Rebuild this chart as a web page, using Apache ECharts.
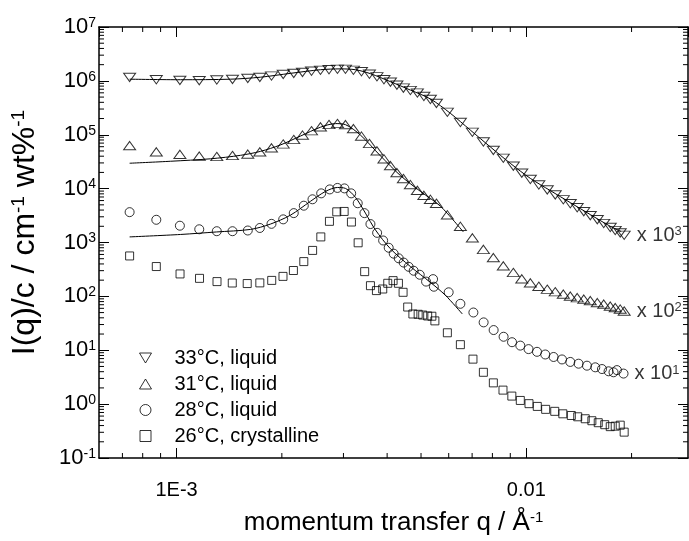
<!DOCTYPE html>
<html><head><meta charset="utf-8">
<script src="https://cdn.jsdelivr.net/npm/echarts@6/dist/echarts.min.js"></script>
<style>html,body{margin:0;padding:0;background:#fff}#c{width:689px;height:541px}</style>
</head><body><div id="c"></div>
<script>
const seriesNames = ['33°C, liquid', '31°C, liquid', '28°C, liquid', '26°C, crystalline'];
const scaleLabels = ['x 10{sup|3}', 'x 10{sup|2}', 'x 10{sup|1}', null];
const xTickLabels = { '-3': '1E-3', '-2': '0.01' };

// q grid shared by the 33 °C and 31 °C data (Å^-1)
const q33_31 = [7.34e-4, 8.75e-4, 1.022e-3, 1.161e-3, 1.303e-3, 1.445e-3, 1.598e-3, 1.730e-3, 1.868e-3, 2.018e-3,
  2.163e-3, 2.291e-3, 2.431e-3, 2.579e-3, 2.728e-3, 2.884e-3, 3.040e-3, 3.204e-3, 3.378e-3, 3.560e-3,
  3.741e-3, 3.917e-3, 4.088e-3, 4.266e-3, 4.452e-3, 4.662e-3, 4.882e-3, 5.095e-3, 5.318e-3, 5.533e-3,
  5.947e-3, 6.479e-3, 7.012e-3, 7.539e-3, 8.050e-3, 8.596e-3, 9.182e-3, 9.708e-3, 1.027e-2, 1.086e-2,
  1.148e-2, 1.210e-2, 1.276e-2, 1.336e-2, 1.398e-2, 1.460e-2, 1.524e-2, 1.596e-2, 1.665e-2, 1.738e-2,
  1.796e-2, 1.856e-2, 1.905e-2];
const I33 = [1.16e6, 1.05e6, 1.02e6, 1.01e6, 1.04e6, 1.065e6, 1.11e6, 1.16e6, 1.23e6, 1.32e6,
  1.38e6, 1.44e6, 1.51e6, 1.57e6, 1.61e6, 1.64e6, 1.64e6, 1.57e6, 1.48e6, 1.33e6,
  1.19e6, 1.05e6, 9.46e5, 8.34e5, 7.35e5, 6.61e5, 5.95e5, 5.13e5, 4.52e5, 3.82e5,
  2.61e5, 1.69e5, 1.11e5, 7.35e4, 5.13e4, 3.66e4, 2.61e4, 1.94e4, 1.48e4, 1.17e4,
  9.46e3, 7.66e3, 6.20e3, 5.24e3, 4.42e3, 3.74e3, 3.15e3, 2.66e3, 2.25e3, 1.90e3,
  1.67e3, 1.51e3, 1.36e3];
const I31 = [6.29e4, 4.82e4, 4.33e4, 4.02e4, 3.95e4, 4.12e4, 4.37e4, 4.82e4, 5.70e4, 6.75e4,
  8.17e4, 9.87e4, 1.19e5, 1.40e5, 1.55e5, 1.62e5, 1.54e5, 1.30e5, 9.46e4, 6.89e4,
  5.02e4, 3.58e4, 2.67e4, 1.98e4, 1.54e4, 1.19e4, 9.27e3, 7.50e3, 6.34e3, 5.35e3,
  3.27e3, 2.00e3, 1.22e3, 744, 524, 369, 278, 211, 178, 154,
  136, 122, 110, 101, 94.6, 88.8, 83.4, 76.6, 71.9, 66.1,
  62.0, 58.2, 53.5];
const q28 = [7.34e-4, 8.75e-4, 1.022e-3, 1.161e-3, 1.303e-3, 1.445e-3, 1.598e-3, 1.730e-3, 1.868e-3, 2.018e-3,
  2.163e-3, 2.311e-3, 2.447e-3, 2.591e-3, 2.742e-3, 2.884e-3, 3.020e-3, 3.157e-3, 3.296e-3, 3.445e-3,
  3.584e-3, 3.745e-3, 3.896e-3, 4.042e-3, 4.177e-3, 4.317e-3, 4.460e-3, 4.610e-3, 4.764e-3, 4.958e-3,
  5.169e-3, 5.413e-3, 5.441e-3, 5.998e-3, 6.479e-3, 7.058e-3, 7.551e-3, 8.066e-3, 8.612e-3, 9.103e-3,
  9.613e-3, 1.015e-2, 1.073e-2, 1.133e-2, 1.197e-2, 1.265e-2, 1.336e-2, 1.411e-2, 1.491e-2, 1.575e-2,
  1.646e-2, 1.719e-2, 1.776e-2, 1.816e-2, 1.897e-2];
const I28 = [3.66e3, 2.64e3, 2.05e3, 1.76e3, 1.62e3, 1.62e3, 1.67e3, 1.86e3, 2.22e3, 2.69e3,
  3.51e3, 4.82e3, 6.34e3, 8.17e3, 9.67e3, 1.03e4, 1.01e4, 8.17e3, 5.35e3, 3.51e3,
  2.20e3, 1.51e3, 1.09e3, 799, 620, 509, 424, 354, 299, 252,
  188, 209, 151, 119, 72.8, 50.2, 32.9, 23.7, 17.8, 14.1,
  12.2, 10.5, 9.35, 8.34, 7.50, 6.75, 6.07, 5.63, 5.17, 4.82,
  4.48, 4.07, 3.90, 4.28, 3.69];
const q26 = [7.34e-4, 8.75e-4, 1.023e-3, 1.163e-3, 1.305e-3, 1.443e-3, 1.592e-3, 1.730e-3, 1.871e-3, 2.015e-3,
  2.158e-3, 2.311e-3, 2.449e-3, 2.585e-3, 2.736e-3, 2.871e-3, 3.014e-3, 3.162e-3, 3.305e-3, 3.450e-3,
  3.584e-3, 3.728e-3, 3.886e-3, 4.016e-3, 4.160e-3, 4.309e-3, 4.443e-3, 4.580e-3, 4.739e-3, 4.907e-3,
  5.057e-3, 5.224e-3, 5.370e-3, 5.478e-3, 5.947e-3, 6.479e-3, 7.039e-3, 7.539e-3, 8.050e-3, 8.578e-3,
  9.092e-3, 9.613e-3, 1.018e-2, 1.075e-2, 1.136e-2, 1.206e-2, 1.272e-2, 1.345e-2, 1.403e-2, 1.474e-2,
  1.540e-2, 1.606e-2, 1.676e-2, 1.738e-2, 1.796e-2, 1.856e-2, 1.905e-2];
const I26 = [563, 358, 261, 216, 188, 177, 173, 178, 198, 235,
  302, 442, 713, 1.27e3, 2.47e3, 3.71e3, 3.77e3, 2.40e3, 988, 288,
  158, 128, 137, 175, 196, 175, 119, 63.4, 47.1, 46.5,
  45.0, 43.3, 42.8, 35.1, 21.1, 12.7, 6.84, 3.90, 2.48, 1.82,
  1.41, 1.17, 1.02, 0.907, 0.80, 0.735, 0.661, 0.615, 0.582, 0.535,
  0.492, 0.452, 0.415, 0.382, 0.39, 0.407, 0.302];

// model fit curves
const qFit33 = [7.34e-4, 1.027e-3, 1.427e-3, 1.738e-3, 2.117e-3, 2.579e-3, 2.942e-3, 3.247e-3, 3.584e-3, 4.088e-3,
  4.662e-3, 5.318e-3, 6.066e-3, 6.918e-3, 7.890e-3, 9.000e-3, 1.027e-2, 1.171e-2, 1.336e-2, 1.524e-2, 1.738e-2, 1.868e-2];
const IFit33 = [1.075e6, 1.05e6, 1.075e6, 1.17e6, 1.38e6, 1.61e6, 1.67e6, 1.61e6, 1.36e6, 9.67e5,
  6.75e5, 4.62e5, 2.50e5, 1.22e5, 5.95e4, 2.95e4, 1.55e4, 9.2e3, 5.5e3, 3.3e3, 2.0e3, 1.6e3];
const qFit31 = [7.34e-4, 9.61e-4, 1.251e-3, 1.523e-3, 1.738e-3, 1.982e-3, 2.261e-3, 2.579e-3, 2.847e-3, 3.040e-3,
  3.355e-3, 3.827e-3, 4.365e-3, 4.981e-3, 5.681e-3, 6.607e-3];
const IFit31 = [2.96e4, 3.22e4, 3.58e4, 4.15e4, 4.92e4, 6.47e4, 9.46e4, 1.38e5, 1.61e5, 1.54e5,
  9.87e4, 4.07e4, 1.75e4, 8.88e3, 4.72e3, 1.57e3];
const qFit28 = [7.34e-4, 1.027e-3, 1.301e-3, 1.627e-3, 1.856e-3, 2.117e-3, 2.415e-3, 2.666e-3, 2.884e-3, 3.040e-3,
  3.247e-3, 3.467e-3, 3.704e-3, 4.088e-3, 4.662e-3, 5.318e-3, 5.869e-3, 6.563e-3];
const IFit28 = [1.27e3, 1.41e3, 1.57e3, 1.75e3, 2.20e3, 3.22e3, 5.82e3, 8.88e3, 1.05e4, 1.01e4,
  6.89e3, 3.51e3, 1.71e3, 766, 358, 182, 105, 47.1];

const FONT = "'Liberation Sans', Arial, sans-serif";
const X_MIN = 6e-4, X_MAX = 0.029, Y_MIN = 0.1, Y_MAX = 1e7;

const xMinor = [];
for (let e = -4; e <= -2; e++) for (let m = 2; m <= 9; m++) { const v = m * Math.pow(10, e); if (v > X_MIN * 1.01 && v < X_MAX * 0.99) xMinor.push([v, 1]); }
const yMinor = [];
for (let e = -1; e <= 6; e++) for (let m = 2; m <= 9; m++) yMinor.push([1e-3, m * Math.pow(10, e)]);

const chart = echarts.init(document.getElementById('c'), null, { renderer: 'canvas' });
const supRich = { sup: { fontSize: 13, verticalAlign: 'top', lineHeight: 12, fontFamily: FONT, color: '#000' } };
const tickRich = { sup: { fontSize: 14, verticalAlign: 'top', lineHeight: 12, fontFamily: FONT, color: '#000' } };
const isPow = v => { const l = Math.log10(v); return Math.abs(l - Math.round(l)) < 1e-6; };

const symbols = ['path://M0,0L12,0L6,10Z', 'path://M6,0L12,10L0,10Z', 'circle', 'path://M0,0L8,0L8,8L0,8Z'];
const sizes = [[12, 10], [12, 10], 9, 8];
const qs = [q33_31, q33_31, q28, q26];
const Is = [I33, I31, I28, I26];

const scatterSeries = seriesNames.map((name, k) => ({
  name, type: 'scatter', symbol: symbols[k], symbolSize: sizes[k], symbolKeepAspect: true, z: 5,
  itemStyle: { color: 'rgba(0,0,0,0)', borderColor: '#000', borderWidth: 1 },
  data: qs[k].map((q, i) => {
    const d = { value: [q, Is[k][i]] };
    if (i === qs[k].length - 1 && scaleLabels[k]) {
      d.label = { show: true, position: 'right', distance: 6, formatter: scaleLabels[k], fontSize: 20, fontFamily: FONT, color: '#000', rich: supRich };
    }
    return d;
  })
}));
const fitSeries = [[qFit33, IFit33], [qFit31, IFit31], [qFit28, IFit28]].map(([qq, II], k) => ({
  name: 'fit' + k, type: 'line', smooth: 0.3, symbol: 'none', z: 4,
  lineStyle: { color: '#000', width: 1 },
  data: qq.map((q, i) => [q, II[i]])
}));

const tickStyle = { color: '#000', width: 1 };
const option = {
  animation: false,
  backgroundColor: '#fff',
  grid: { left: 99, right: 1, top: 27, bottom: 78, containLabel: false },
  legend: {
    data: seriesNames.map((n, k) => ({ name: n, icon: k === 2 ? 'circle' : symbols[k] })),
    orient: 'vertical', left: 134, top: 343,
    itemWidth: 12, itemHeight: 11, itemGap: 6,
    itemStyle: { color: 'rgba(0,0,0,0)', borderColor: '#000', borderWidth: 1 },
    textStyle: { fontSize: 20, fontFamily: FONT, color: '#000', lineHeight: 20, padding: [0, 0, 0, 18] }
  },
  xAxis: [{
    type: 'log', logBase: 10, min: X_MIN, max: X_MAX, position: 'bottom',
    axisLine: { lineStyle: { color: '#000', width: 1.5 } },
    axisTick: { inside: true, length: 10, lineStyle: tickStyle },
    splitLine: { show: false },
    axisLabel: {
      fontSize: 20, fontFamily: FONT, color: '#000', margin: 22, showMinLabel: false, showMaxLabel: false,
      formatter: v => isPow(v) ? (xTickLabels[Math.round(Math.log10(v))] || '') : ''
    },
    name: 'momentum transfer q / Å{sup|-1}', nameLocation: 'middle', nameGap: 52,
    nameTextStyle: { fontSize: 26, fontFamily: FONT, color: '#000', rich: { sup: { fontSize: 15, verticalAlign: 'top', lineHeight: 14, fontFamily: FONT } } }
  }, {
    type: 'log', logBase: 10, min: X_MIN, max: X_MAX, position: 'top',
    axisLine: { lineStyle: { color: '#000', width: 1.5 } },
    axisTick: { inside: true, length: 10, lineStyle: tickStyle },
    splitLine: { show: false }, axisLabel: { show: false }
  }],
  yAxis: [{
    type: 'log', logBase: 10, min: Y_MIN, max: Y_MAX, splitNumber: 8, position: 'left',
    axisLine: { lineStyle: { color: '#000', width: 1.5 } },
    axisTick: { inside: true, length: 10, lineStyle: tickStyle },
    splitLine: { show: false },
    axisLabel: {
      fontSize: 22, fontFamily: FONT, color: '#000', margin: 3,
      formatter: v => isPow(v) ? '10{sup|' + Math.round(Math.log10(v)) + '}' : '',
      rich: tickRich
    },
    name: 'I(q)/c / cm{sup|-1} wt%{sup|-1}', nameLocation: 'middle', nameGap: 58, nameRotate: 90,
    nameTextStyle: { fontSize: 32, fontFamily: FONT, color: '#000', padding: [0, 0, 0, 20], rich: { sup: { fontSize: 19, verticalAlign: 'top', lineHeight: 16, fontFamily: FONT } } }
  }, {
    type: 'log', logBase: 10, min: Y_MIN, max: Y_MAX, splitNumber: 8, position: 'right',
    axisLine: { lineStyle: { color: '#000', width: 1.5 } },
    axisTick: { inside: true, length: 10, lineStyle: tickStyle },
    splitLine: { show: false }, axisLabel: { show: false }
  }],
  series: [
    ...fitSeries,
    ...scatterSeries,
    {
      name: 'xMinor', type: 'custom', silent: true, z: 3, clip: false, data: xMinor,
      renderItem: (params, api) => {
        const cs = params.coordSys; const x = api.coord([api.value(0), 1])[0];
        return { type: 'group', children: [
          { type: 'line', shape: { x1: x, y1: cs.y + cs.height, x2: x, y2: cs.y + cs.height - 5 }, style: { stroke: '#000', lineWidth: 1 } },
          { type: 'line', shape: { x1: x, y1: cs.y, x2: x, y2: cs.y + 5 }, style: { stroke: '#000', lineWidth: 1 } }
        ] };
      }
    },
    {
      name: 'yMinor', type: 'custom', silent: true, z: 3, clip: false, data: yMinor,
      renderItem: (params, api) => {
        const cs = params.coordSys; const y = api.coord([1e-3, api.value(1)])[1];
        return { type: 'group', children: [
          { type: 'line', shape: { x1: cs.x, y1: y, x2: cs.x + 5, y2: y }, style: { stroke: '#000', lineWidth: 1 } },
          { type: 'line', shape: { x1: cs.x + cs.width, y1: y, x2: cs.x + cs.width - 5, y2: y }, style: { stroke: '#000', lineWidth: 1 } }
        ] };
      }
    }
  ]
};
chart.setOption(option);
</script>
</body></html>
